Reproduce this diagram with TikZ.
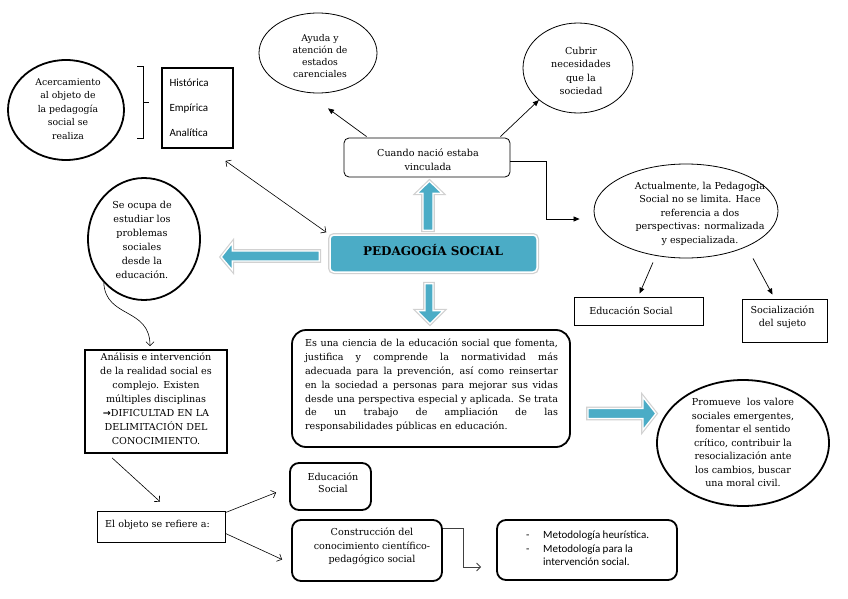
\documentclass[tikz,border=0pt]{standalone}
\usepackage{fontspec}
\setmainfont{DejaVu Serif}
\newfontfamily\carl{Carlito}
\newfontfamily\dvsans{DejaVu Sans}
\usetikzlibrary{arrows.meta,calc,shapes.geometric}
\definecolor{tealc}{RGB}{75,172,198}
\newcommand\fs{\fontsize{9.6}{13.6}\selectfont}
\newcommand\jl[1]{\makebox[253pt][s]{\spaceskip=.3em plus 1fil\relax #1}}
\begin{document}
\begin{tikzpicture}[x=1pt,y=-1pt,font=\fs,
  thinE/.style={ellipse,draw,line width=0.8pt,inner sep=0},
  thickE/.style={ellipse,draw,line width=1.8pt,inner sep=0},
  txt/.style={align=center,inner sep=0},
  thinB/.style={rectangle,draw,line width=0.8pt,inner sep=0},
  thickB/.style={rectangle,draw,line width=1.8pt,inner sep=0},
  rB/.style={thickB,rounded corners=9pt},
  farr/.style={line width=0.7pt,-{Triangle[length=6pt,width=5pt]}},
  oarr/.style={line width=0.6pt,-{Straight Barb[length=4pt,width=8pt]}},
  block/.style={fill=tealc,draw=white,line width=1.3pt,line join=miter,preaction={draw=black!18,line width=3.6pt}}]
\useasboundingbox (0,0) rectangle (848,599);
\fill[white] (0,0) rectangle (848,599);

% top-left
\node[thickE,minimum width=116,minimum height=100] (acer) at (66,110) {};
\node[txt,font=\fontsize{9.3}{13.4}\selectfont] (acerT) at (68,109) {Acercamiento\\al objeto de\\la pedagogía\\social se\\realiza};
\draw[line width=0.7pt] (137,66) -- (143,66) -- (143,138) -- (137,138);
\draw[line width=0.7pt] (143,102) -- (149,102);
\node[thickB,minimum width=71,minimum height=80,font=\carl\fontsize{11}{25}\selectfont,align=left,text width=56] (hist) at (197.5,108) {Histórica\\Empírica\\Analítica};

% top
\node[thinE,minimum width=118,minimum height=80] (ayuda) at (318,53) {};
\node[txt,font=\fontsize{9.3}{12.3}\selectfont] (ayudaT) at (320,56) {Ayuda y\\atención de\\estados\\carenciales};
\node[thinE,minimum width=110,minimum height=90] (cubrir) at (578,68) {};
\node[txt] (cubrirT) at (581,71) {Cubrir\\necesidades\\que la\\sociedad};
\node[thinB,rounded corners=5pt,minimum width=166,minimum height=39] (cuando) at (427,157.5) {};
\node[txt] (cuandoT) at (428,160) {Cuando nació estaba\\vinculada};

% right
\node[thinE,minimum width=184,minimum height=94] (actual) at (686,211) {};
\node[txt] (actualT) at (700,213.5) {Actualmente, la Pedagogía\\Social no se limita. Hace\\referencia a dos\\perspectivas: normalizada\\y especializada.};
\node[thinB,minimum width=129,minimum height=28] (edsoc1) at (638.5,311) {};
\node[txt] (edsoc1T) at (631,311) {Educación Social};
\node[thinB,minimum width=85,minimum height=43] (socsuj) at (784.5,320.5) {};
\node[txt,font=\fontsize{9.6}{12.5}\selectfont] (socsujT) at (782.5,317) {Socialización\\del sujeto};

% centre
\node[minimum width=207,minimum height=37,rounded corners=4pt,fill=tealc,draw=white,line width=1.5pt,preaction={draw=black!18,line width=4pt}] (ped) at (433.5,253.5) {};
\node[font=\fontsize{12}{14}\selectfont\bfseries,inner sep=0] (pedT) at (433,250) {PEDAGOGÍA SOCIAL};

% left
\node[thickE,minimum width=112,minimum height=122] (seocupa) at (144,239) {};
\node[txt,font=\fontsize{9.6}{14}\selectfont] (seocupaT) at (142,240) {Se ocupa de\\estudiar los\\problemas\\sociales\\desde la\\educación.};
\node[thickB,minimum width=142,minimum height=103] (analisis) at (156,401.5) {};
\node[txt,font=\fontsize{9.6}{14}\selectfont] (analisisT) at (156,399) {Análisis e intervención\\de la realidad social es\\complejo. Existen\\múltiples disciplinas\\{\dvsans\bfseries →}DIFICULTAD EN LA\\DELIMITACIÓN DEL\\CONOCIMIENTO.};
\node[thinB,minimum width=128,minimum height=31] (objeto) at (161,526.5) {};
\node[anchor=west,inner sep=0] (objetoT) at (105,525) {El objeto se refiere a:};

% big box
\node[thickB,rounded corners=14pt,minimum width=278,minimum height=117] (big) at (431,388.5) {};
\node[text width=253,align=left,inner sep=0,font=\fontsize{9.6}{13.8}\selectfont] (bigT) at (431.5,385.5) {\jl{Es una ciencia de la educación social que fomenta,}\\\jl{justifica y comprende la normatividad más}\\\jl{adecuada para la prevención, así como reinsertar}\\\jl{en la sociedad a personas para mejorar sus vidas}\\\jl{desde una perspectiva especial y aplicada. Se trata}\\\jl{de un trabajo de ampliación de las}\\responsabilidades públicas en educación.};

\node[thickE,minimum width=172,minimum height=126] (prom) at (743,443) {};
\node[txt,font=\fontsize{9.6}{13.5}\selectfont] (promT) at (743,442.5) {Promueve\ \ los valore\\sociales emergentes,\\fomentar el sentido\\crítico, contribuir la\\resocialización ante\\los cambios, buscar\\una moral civil.};

% bottom
\node[rB,minimum width=81,minimum height=47] (edsoc2) at (330.5,486.5) {};
\node[txt,font=\fontsize{9.6}{12}\selectfont] (edsoc2T) at (333,483) {Educación\\Social};
\node[rB,minimum width=150,minimum height=61] (constr) at (367,550.5) {};
\node[txt,font=\fontsize{9.6}{13.5}\selectfont] (constrT) at (372,546.5) {Construcción del\\conocimiento científico-\\pedagógico social};
\node[rB,minimum width=180,minimum height=60] (metod) at (587,550) {};
\node[anchor=west,align=left,inner sep=0,font=\carl\fontsize{11}{13.5}\selectfont] (metodT) at (526,548.5) {\makebox[17pt][l]{-}Metodología heurística.\\\makebox[17pt][l]{-}Metodología para la\\\makebox[17pt][l]{}intervención social.};

% block arrows
\begin{scope}[shift={(ped.north)}]
\path[block] (-10.5,-4) -- (-10.5,-41) -- (-16.5,-41) -- (-4,-53) -- (8.5,-41) -- (-0.5,-41) -- (-0.5,-4) -- cycle;
\end{scope}
\begin{scope}[shift={(ped.south)}]
\path[block] (-8.5,11) -- (-0.5,11) -- (-0.5,38) -- (9.5,38) -- (-3.5,51) -- (-16.5,38) -- (-8.5,38) -- cycle;
\end{scope}
\begin{scope}[shift={(ped.west)}]
\path[block] (-10,-2.5) -- (-97,-2.5) -- (-97,-10.5) -- (-108,3.5) -- (-97,16.5) -- (-97,7.5) -- (-10,7.5) -- cycle;
\end{scope}
\begin{scope}[shift={(big.east)}]
\path[block] (17,20) -- (72,20) -- (72,8.5) -- (85,25) -- (72,41.5) -- (72,30) -- (17,30) -- cycle;
\end{scope}

% connectors
\coordinate (ayT) at ($(ayuda.south)+(10,15)$);
\draw[farr] ($(cuando.north west)+(23,-1)$) -- (ayT);
\draw[farr] ($(cuando.north east)+(-10,-1)$) -- (cubrir.south west);
\draw[farr] ($(cuando.east)+(0,4)$) -- ++(36,0) |- ($(actual.west)+(-14,8)$);
\draw[farr] ($(actual.south)+(-33,4)$) -- ($(edsoc1.north)+(1,-3)$);
\draw[farr] ($(actual.south)+(67,0)$) -- ($(socsuj.north)+(-12,-4)$);
\draw[line width=0.6pt,{Straight Barb[length=4pt,width=8pt]}-{Straight Barb[length=4pt,width=8pt]}] ($(hist.south)+(28,12)$) -- ($(ped.north west)+(-3,-2)$);
\draw[oarr] (seocupa.south west) .. controls ($(seocupa.south west)+(2,36)$) and ($(analisis.north)+(-6,-42)$) .. ($(analisis.north)+(-6,-3)$);
\draw[oarr] ($(analisis.south west)+(28,4)$) -- ($(objeto.north)+(-1,-9)$);
\draw[oarr] ($(objeto.north east)+(0,2)$) -- ($(edsoc2.west)+(-13,6)$);
\draw[oarr] ($(objeto.south east)+(0,-9)$) -- ($(constr.west)+(-9,9)$);
\draw[oarr,black!75,line width=0.8pt] ($(constr.east)+(0,-22)$) -- ++(20,0) |- ($(metod.west)+(-15,17)$);
\end{tikzpicture}
\end{document}
